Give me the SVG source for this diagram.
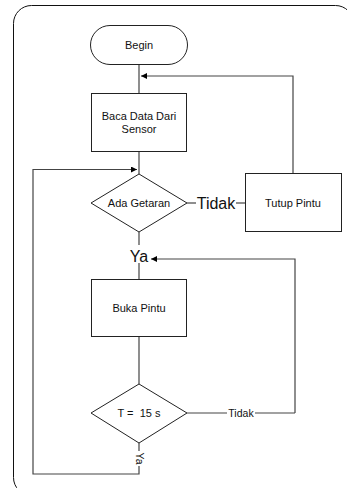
<svg xmlns="http://www.w3.org/2000/svg" width="347" height="488" viewBox="0 0 347 488">
<defs>
<style>
.s{fill:#fff;stroke:#222;stroke-width:1}
.l{fill:none;stroke:#444;stroke-width:1.2}
.t{font-family:"Liberation Sans",Arial,sans-serif;font-size:11px;fill:#111;text-anchor:middle}
.sm{font-family:"Liberation Sans",Arial,sans-serif;font-size:10.5px;fill:#111;text-anchor:middle}
.big{font-family:"Liberation Sans",Arial,sans-serif;font-size:16px;fill:#111;text-anchor:middle}
</style>
<marker id="a" viewBox="0 0 10 10" refX="10" refY="5" markerWidth="8" markerHeight="6" markerUnits="userSpaceOnUse" orient="auto"><path d="M0,0 L10,5 L0,10 z" fill="#000"/></marker>
</defs>
<rect x="13.5" y="5.5" width="340" height="490" rx="18" fill="none" stroke="#111" stroke-width="1"/>
<g id="connectors">
<path class="l" d="M139,64 V93"/>
<path class="l" d="M293,173 V76 H141" marker-end="url(#a)"/>
<path class="l" d="M139,152 V174"/>
<path class="l" d="M187,203 H196"/>
<path class="l" d="M236,203 H245"/>
<path class="l" d="M139,232 V245"/>
<path class="l" d="M139,263 V279"/>
<path class="l" d="M295,413 V259 H151" marker-end="url(#a)"/>
<path class="l" d="M139,337 V384"/>
<path class="l" d="M187,413 H227"/>
<path class="l" d="M255,413 H295"/>
<path class="l" d="M139,443 V451"/>
<path class="l" d="M139,466 V474 H33 V169.5 H137" marker-end="url(#a)"/>
<text class="big" x="216" y="208.5">Tidak</text>
<text class="big" x="139" y="261.5">Ya</text>
<text class="sm" x="241" y="416.5">Tidak</text>
<text class="sm" transform="translate(135.5,458.5) rotate(90)">Ya</text>
</g>
<g id="begin"><rect class="s" x="90.5" y="25.5" width="97" height="39" rx="19.5"/><text class="t" x="139" y="48.5">Begin</text></g>
<g id="baca"><rect class="s" x="91.5" y="93.5" width="95" height="58"/><text class="t" x="139" y="119.5">Baca Data Dari</text><text class="t" x="139" y="132.5">Sensor</text></g>
<g id="ada"><path class="s" d="M139,174 L187,203 L139,232 L91,203 Z"/><text class="t" x="139" y="207">Ada Getaran</text></g>
<g id="tutup"><rect class="s" x="245.5" y="173.5" width="96" height="58"/><text class="t" x="293" y="207">Tutup Pintu</text></g>
<g id="buka"><rect class="s" x="91.5" y="279.5" width="95" height="57"/><text class="t" x="139" y="312">Buka Pintu</text></g>
<g id="t15"><path class="s" d="M139,384 L187,413 L139,443 L91,413 Z"/><text class="t" x="139" y="417" xml:space="preserve">T =  15 s</text></g>
</svg>
